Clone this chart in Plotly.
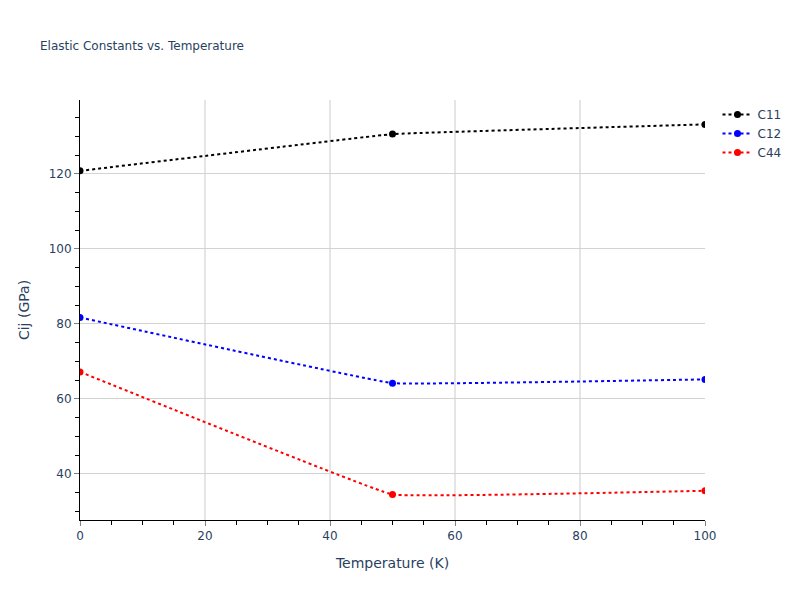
import plotly.graph_objects as go

temperature = [0, 50, 100]
c11 = [120.8, 130.6, 133.2]
c12 = [81.7, 64.2, 65.2]
c44 = [67.2, 34.5, 35.5]

series = [("C11", c11, "black"), ("C12", c12, "blue"), ("C44", c44, "red")]

fig = go.Figure()
for name, vals, col in series:
    fig.add_trace(go.Scatter(
        x=temperature, y=vals, name=name, mode="lines+markers",
        line=dict(color=col, dash="dot", shape="spline", smoothing=0.15, width=2),
        marker=dict(color=col, size=7),
    ))

axis_common = dict(
    showline=True, linecolor="black", linewidth=1,
    ticks="outside", tickcolor="gray", ticklen=5,
    minor=dict(ticks="outside", ticklen=4, tickcolor="black", dtick=5),
    zeroline=False,
    tickfont=dict(size=12, color="#2a3f5f"),
)

fig.update_layout(
    title=dict(text="Elastic Constants vs. Temperature", font=dict(size=12, color="#2a3f5f"),
               x=0.05, xanchor="left", y=0.923, yanchor="middle"),
    width=800, height=600,
    margin=dict(l=80, r=95, t=100, b=80),
    plot_bgcolor="white", paper_bgcolor="white",
    font=dict(family="Verdana, DejaVu Sans, sans-serif", color="#2a3f5f"),
    legend=dict(font=dict(size=12)),
)
fig.update_xaxes(title=dict(text="Temperature (K)", font=dict(size=14)), range=[0, 100], dtick=20,
                 showgrid=True, gridcolor="#e5e5e5", gridwidth=2, **axis_common)
fig.update_yaxes(title=dict(text="Cij (GPa)", font=dict(size=14)), range=[27.7, 139.7], dtick=20,
                 showgrid=True, gridcolor="#d3d3d3", gridwidth=1, **axis_common)

fig.write_html("out.html", config={"displayModeBar": False},
               post_script="document.body.style.margin='0';")
